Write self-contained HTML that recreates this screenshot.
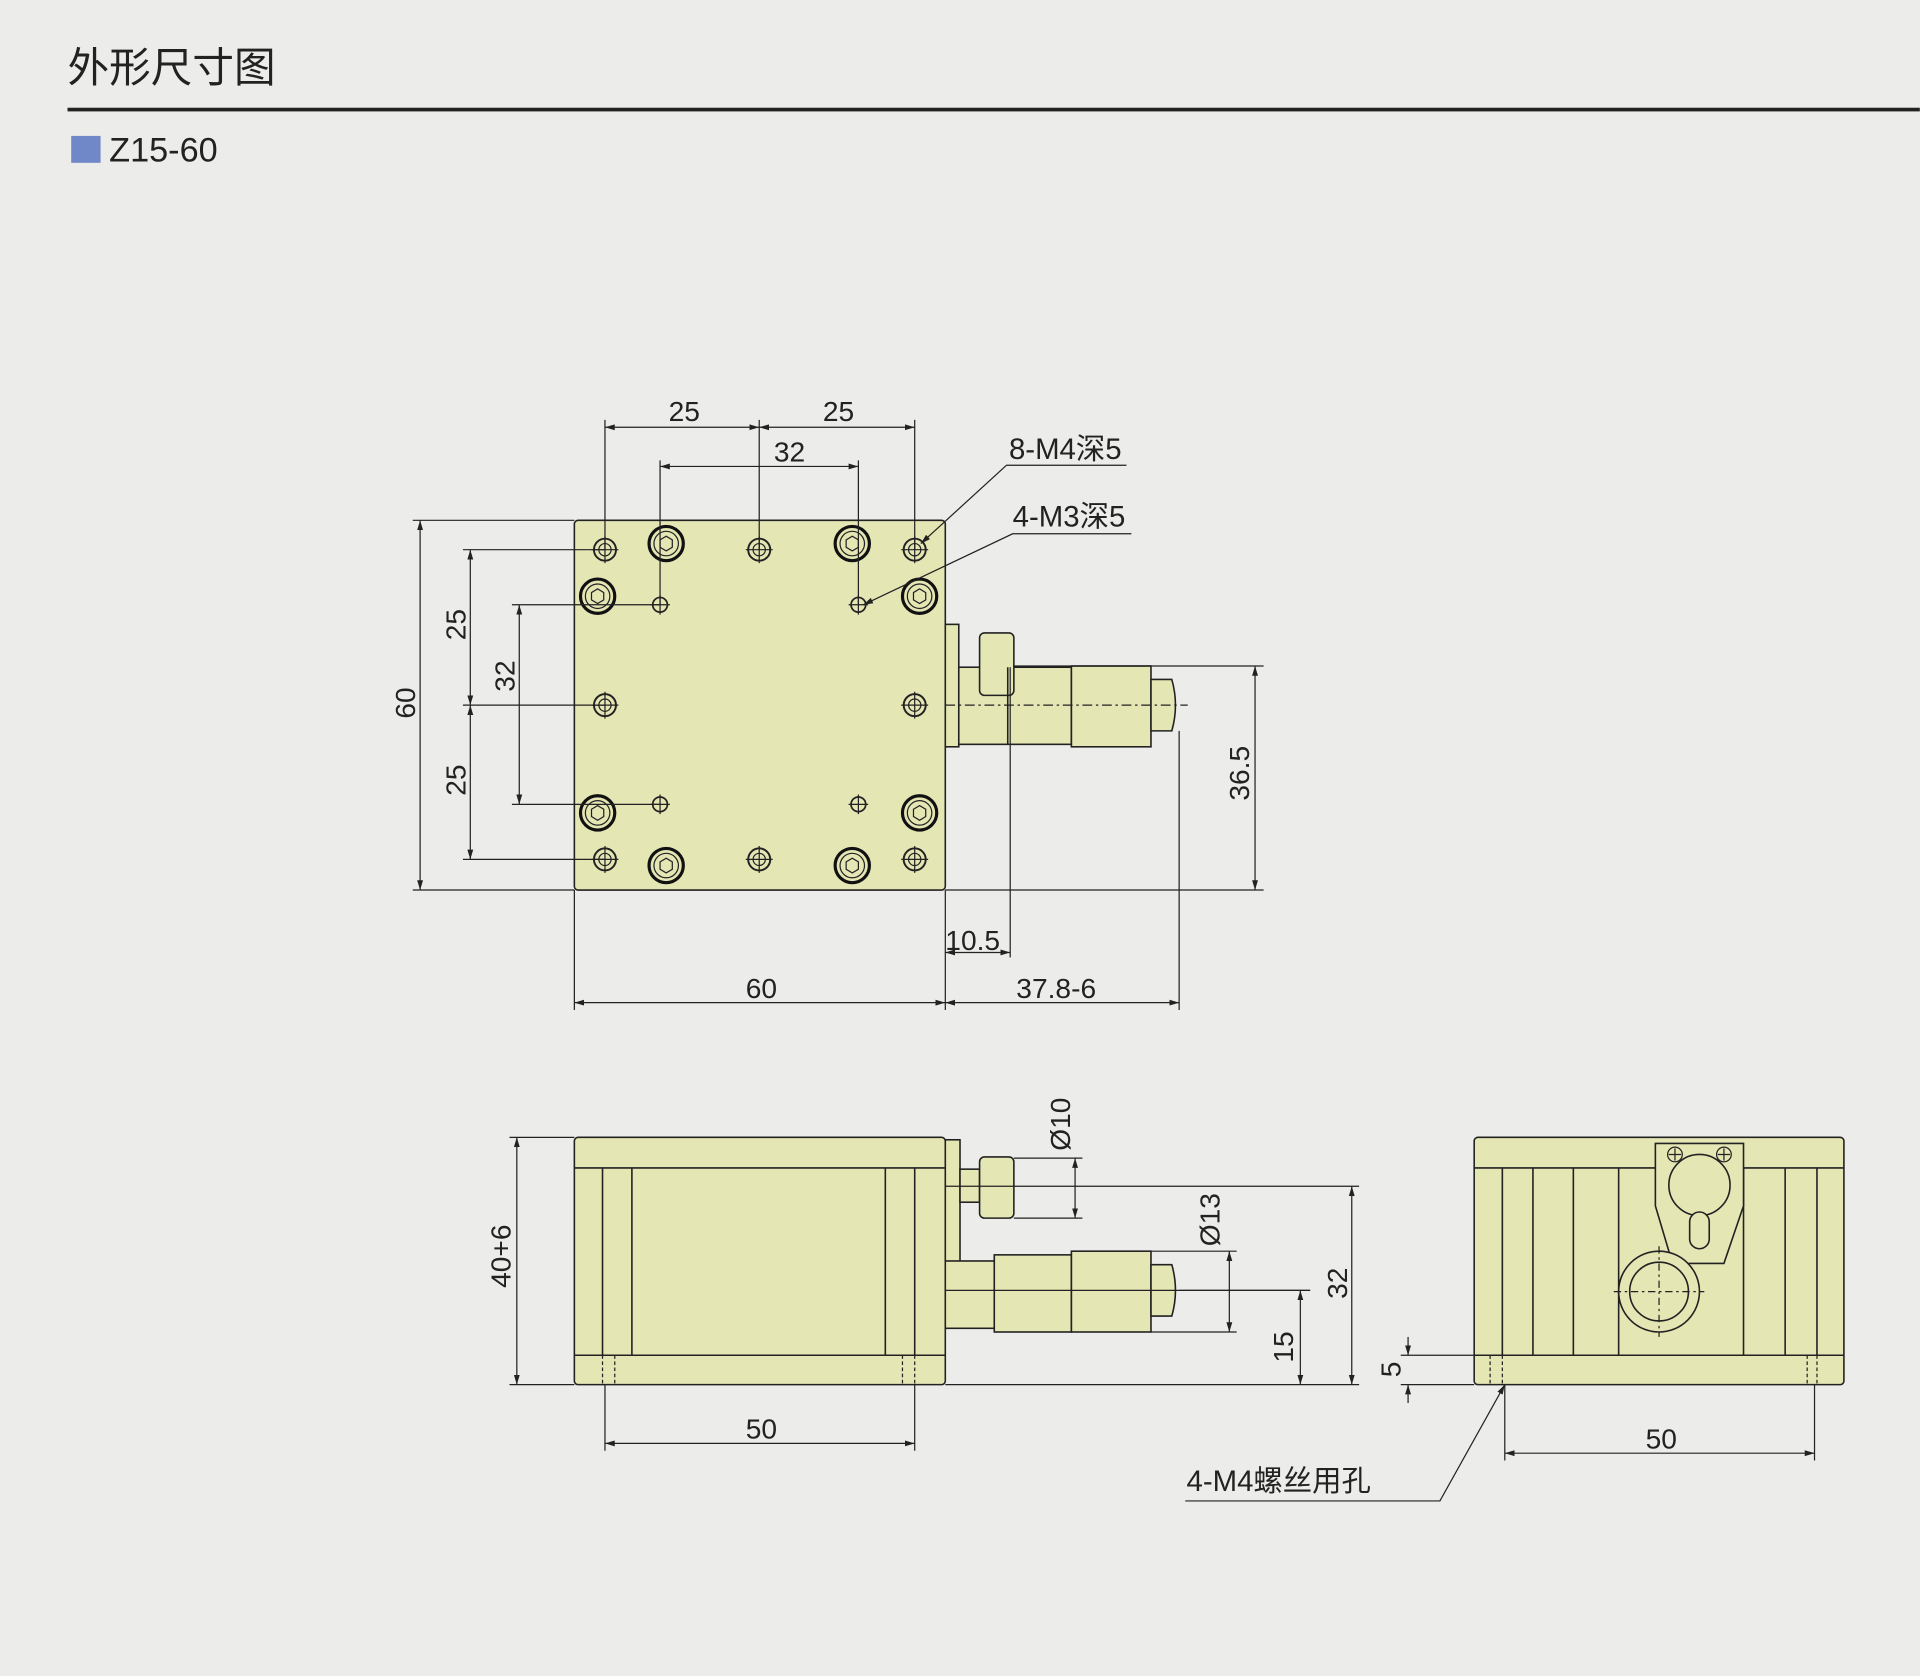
<!DOCTYPE html>
<html><head><meta charset="utf-8"><style>
html,body{margin:0;padding:0;background:#ececea;}
svg{display:block;}
text{font-family:"Liberation Sans","Noto Sans CJK SC",sans-serif;fill:#222;}
</style></head><body>
<svg width="1920" height="1676" viewBox="0 0 1568 1369" xmlns="http://www.w3.org/2000/svg">
<defs>
<marker id="a" viewBox="0 0 10 10" refX="10" refY="5" markerWidth="8" markerHeight="8" orient="auto-start-reverse"><path d="M0,2 L10,5 L0,8 z" fill="#222"/></marker>
<g id="sh"><circle r="9" fill="none" stroke="#222" stroke-width="1.6"/><circle r="5" fill="none" stroke="#222" stroke-width="1"/><path d="M-11,0H11M0,-11V11" stroke="#222" stroke-width="1"/></g>
<g id="lh"><circle r="14" fill="none" stroke="#111" stroke-width="2.6"/><circle r="10" fill="none" stroke="#222" stroke-width="1"/><path d="M-5,-3 L0,-6 L5,-3 L5,3 L0,6 L-5,3z" fill="none" stroke="#222" stroke-width="1"/></g>
<g id="m3"><circle r="6" fill="none" stroke="#222" stroke-width="1.4"/><path d="M-8,0H8M0,-8V8" stroke="#222" stroke-width="1"/></g>
</defs>
<rect width="1568" height="1369" fill="#ececea"/>
<text x="55" y="67" font-size="34" font-family="Noto Sans CJK SC,sans-serif">外形尺寸图</text>
<rect x="55" y="88" width="1513" height="3" fill="#222"/>
<rect x="58" y="111" width="24" height="22" fill="#7088c8"/>
<text x="89" y="132" font-size="28">Z15-60</text>

<g stroke="#222" stroke-width="1.3" fill="#e4e6b4">
<rect x="469" y="425" width="303" height="302" rx="3"/>
<rect x="772" y="510" width="11" height="100"/>
<rect x="783" y="545" width="92" height="63"/>
<rect x="800" y="517" width="28" height="51" rx="4"/>
<rect x="875" y="544" width="65" height="66"/>
<path d="M940,555 H957 Q963,576 957,597 H940z"/>
<line x1="823" y1="545" x2="823" y2="608"/>
</g>
<g>
<use href="#sh" x="494" y="449"/><use href="#sh" x="620" y="449"/><use href="#sh" x="747" y="449"/>
<use href="#sh" x="494" y="576"/><use href="#sh" x="747" y="576"/>
<use href="#sh" x="494" y="702"/><use href="#sh" x="620" y="702"/><use href="#sh" x="747" y="702"/>
<use href="#lh" x="544" y="444"/><use href="#lh" x="696" y="444"/><use href="#lh" x="488" y="487"/><use href="#lh" x="751" y="487"/>
<use href="#lh" x="488" y="664"/><use href="#lh" x="751" y="664"/><use href="#lh" x="544" y="707"/><use href="#lh" x="696" y="707"/>
<use href="#m3" x="539" y="494"/><use href="#m3" x="701" y="494"/><use href="#m3" x="539" y="657"/><use href="#m3" x="701" y="657"/>
</g>
<g stroke="#222" stroke-width="1" fill="none">
<path d="M772,576 H970" stroke-dasharray="8 3 2 3"/>
<path d="M494,449V343M620,449V343M747,449V343M539,494V376M701,494V376"/>
<path d="M494,349H620" marker-start="url(#a)" marker-end="url(#a)"/>
<path d="M620,349H747" marker-start="url(#a)" marker-end="url(#a)"/>
<path d="M539,381H701" marker-start="url(#a)" marker-end="url(#a)"/>
<path d="M469,425H337M469,727H337M494,449H378M494,576H378M494,702H378M539,494H418M539,657H418"/>
<path d="M343,425V727" marker-start="url(#a)" marker-end="url(#a)"/>
<path d="M384,449V576" marker-start="url(#a)" marker-end="url(#a)"/>
<path d="M384,576V702" marker-start="url(#a)" marker-end="url(#a)"/>
<path d="M424,494V657" marker-start="url(#a)" marker-end="url(#a)"/>
<path d="M828,544H1032M772,727H1032"/>
<path d="M1025,544V727" marker-start="url(#a)" marker-end="url(#a)"/>
<path d="M469,727V825M772,727V825M825,545V782M963,597V825"/>
<path d="M772,778H825" marker-start="url(#a)" marker-end="url(#a)"/>
<path d="M469,819H772" marker-start="url(#a)" marker-end="url(#a)"/>
<path d="M772,819H963" marker-start="url(#a)" marker-end="url(#a)"/>
<path d="M920,380H822L752,444" marker-end="url(#a)"/>
<path d="M924,436H827L705,494" marker-end="url(#a)"/>
</g>
<g font-size="23">
<text x="546" y="344">25</text><text x="672" y="344">25</text><text x="632" y="377">32</text>
<text x="824" y="375" font-size="24">8-M4深5</text><text x="827" y="430" font-size="24">4-M3深5</text>
<text x="772" y="776">10.5</text><text x="609" y="815">60</text><text x="830" y="815">37.8-6</text>
<text transform="translate(339,587) rotate(-90)">60</text>
<text transform="translate(380,523) rotate(-90)">25</text>
<text transform="translate(380,650) rotate(-90)">25</text>
<text transform="translate(420,565) rotate(-90)">32</text>
<text transform="translate(1020,654) rotate(-90)">36.5</text>
</g>

<g stroke="#222" stroke-width="1.3" fill="#e4e6b4">
<rect x="469" y="929" width="303" height="202" rx="3"/>
<path d="M469,954H772M469,1107H772M492,954V1107M516,954V1107M723,954V1107M747,954V1107"/>
<rect x="772" y="931" width="12" height="100"/>
<rect x="784" y="955" width="16" height="27"/>
<rect x="800" y="945" width="28" height="50" rx="4"/>
<rect x="772" y="1030" width="40" height="55"/>
<rect x="812" y="1025" width="63" height="63"/>
<rect x="875" y="1022" width="65" height="66"/>
<path d="M940,1033 H957 Q963,1054 957,1075 H940z"/>
</g>
<g stroke="#222" stroke-width="1" fill="none">
<path d="M492,1107V1131M502,1107V1131M737,1107V1131M747,1107V1131" stroke-dasharray="3 2"/>
<path d="M772,969H1110M772,1054H1070M772,1131H1110"/>
<path d="M828,946H884M828,995H884M963,1054H1070M940,1022H1010M940,1088H1010"/>
<path d="M878,946V995" marker-start="url(#a)" marker-end="url(#a)"/>
<path d="M1004,1022V1088" marker-start="url(#a)" marker-end="url(#a)"/>
<path d="M1062,1054V1131" marker-start="url(#a)" marker-end="url(#a)"/>
<path d="M1104,969V1131" marker-start="url(#a)" marker-end="url(#a)"/>
<path d="M469,929H416M469,1131H416"/>
<path d="M422,929V1131" marker-start="url(#a)" marker-end="url(#a)"/>
<path d="M494,1131V1185M747,1131V1185"/>
<path d="M494,1179H747" marker-start="url(#a)" marker-end="url(#a)"/>
</g>
<g font-size="23">
<text transform="translate(874,940) rotate(-90)">Ø10</text>
<text transform="translate(996,1018) rotate(-90)">Ø13</text>
<text transform="translate(1056,1113) rotate(-90)">15</text>
<text transform="translate(1100,1061) rotate(-90)">32</text>
<text transform="translate(417,1052) rotate(-90)">40+6</text>
<text x="609" y="1175">50</text>
</g>

<g stroke="#222" stroke-width="1.3" fill="#e4e6b4">
<rect x="1204" y="929" width="302" height="202" rx="3"/>
<path d="M1204,954H1506M1204,1107H1506M1227,954V1107M1252,954V1107M1285,954V1107M1322,954V1107M1424,954V1107M1458,954V1107M1484,954V1107"/>
<path d="M1352,934H1424V985L1408,1032H1366L1352,985z"/>
<circle cx="1388" cy="968" r="25"/>
<rect x="1380" y="990" width="16" height="30" rx="8"/>
<circle cx="1355" cy="1055" r="33"/>
<circle cx="1355" cy="1055" r="24"/>
</g>
<g stroke="#222" stroke-width="1" fill="none">
<circle cx="1368" cy="943" r="6"/><circle cx="1408" cy="943" r="6"/>
<path d="M1363,943h10M1368,938v10M1403,943h10M1408,938v10"/>
<path d="M1318,1055h74M1355,1018v74" stroke-dasharray="6 3 2 3"/>
<path d="M1217,1107V1131M1227,1107V1131M1476,1107V1131M1484,1107V1131" stroke-dasharray="3 2"/>
<path d="M1204,1107H1144M1204,1131H1144"/>
<path d="M1150,1092V1107" marker-end="url(#a)"/><path d="M1150,1146V1131" marker-end="url(#a)"/>
<path d="M1229,1131V1193M1482,1131V1193"/>
<path d="M1229,1187H1482" marker-start="url(#a)" marker-end="url(#a)"/>
<path d="M968,1226H1176L1229,1131" marker-end="url(#a)"/>
</g>
<g font-size="23">
<text transform="translate(1144,1125) rotate(-90)">5</text>
<text x="1344" y="1183">50</text>
<text x="969" y="1218" font-size="24">4-M4螺丝用孔</text>
</g>
</svg>
</body></html>
